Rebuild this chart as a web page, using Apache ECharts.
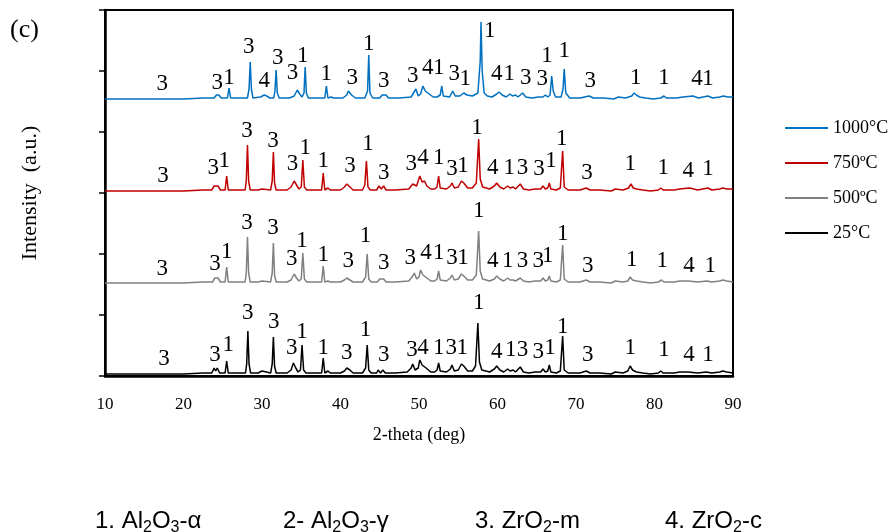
<!DOCTYPE html>
<html>
<head>
<meta charset="utf-8">
<script src="https://cdn.jsdelivr.net/npm/echarts@6/dist/echarts.min.js"></script>
<style>
html,body{margin:0;padding:0;background:#fff;}
#chart{width:892px;height:532px;}
</style>
</head>
<body>
<div id="chart"></div>
<script>
// ---- series names and colours ----
const seriesNames = ['1000°C', '750ºC', '500ºC', '25°C'];
const seriesColors = ['#0070C0', '#C00000', '#808080', '#000000'];
// vertical stacking offsets (a.u.)
const offsets = [275, 183, 91, 0];

// ---- x axis ticks ----
const xTicks = [10, 20, 30, 40, 50, 60, 70, 80, 90];

// ---- diffraction patterns [2theta, intensity] ----
const pattern25 = [[10,2],[14,2],[17.1,2],[17.3,4],[17.5,2],[20,2],[22.5,3],[23.6,3],[23.9,8],[24.1,5],[24.3,8],[24.6,3],[25.3,3],[25.5,15],[25.7,3],[27.0,3],[27.9,3],[28.05,12],[28.2,45],[28.35,12],[28.55,3],[29.5,3],[30.0,5],[30.2,3],[31.1,3],[31.3,12],[31.45,39],[31.6,10],[31.8,3],[33.2,3],[33.7,6],[34.0,13],[34.3,8],[34.6,4],[34.9,6],[35.1,31],[35.3,6],[35.6,3],[36.5,3],[37.6,3],[37.8,18],[38.0,3],[38.4,5],[38.7,3],[40.0,3],[40.5,5],[40.8,8],[41.2,6],[41.6,3],[42.8,3],[43.2,8],[43.4,31],[43.6,6],[43.9,3],[44.6,3],[44.8,6],[45.1,3],[45.4,6],[45.7,3],[47,3],[48.5,4],[49.0,8],[49.2,12],[49.5,6],[49.9,8],[50.1,16],[50.4,11],[50.6,12],[50.9,8],[51.1,8],[51.5,4],[52.0,4],[52.3,6],[52.5,13],[52.7,5],[53.5,4],[54.0,7],[54.2,11],[54.5,5],[55.0,6],[55.4,12],[55.7,10],[56.2,5],[56.8,5],[57.2,10],[57.5,53],[57.7,14],[58.0,6],[59.0,4],[59.6,7],[59.9,10],[60.3,6],[60.8,4],[61.3,7],[61.6,5],[62.0,6],[62.3,4],[62.9,9],[63.3,4],[64.0,3],[64.8,4],[65.5,4],[65.8,7],[66.1,4],[66.4,5],[66.6,11],[66.8,4],[67.5,3],[68.0,5],[68.3,40],[68.5,6],[69.0,3],[70.5,3],[71.3,5],[71.8,3],[73,3],[74.5,2],[75,4],[76.0,3],[76.6,5],[76.9,10],[77.2,6],[77.7,4],[78.5,3],[79.5,2],[80.5,3],[80.8,5],[81.1,3],[82.5,3],[83.2,4],[84.3,4],[85.5,3],[86.6,4],[87.3,3],[88.3,4],[88.7,5],[89.2,4],[90,3]];

const pattern500 = [[10,2],[14,2],[17.2,2],[17.4,4],[17.6,2],[20,2],[22.5,3],[23.7,3],[24.0,7],[24.2,5],[24.4,7],[24.7,3],[25.3,3],[25.5,18],[25.7,3],[27.0,3],[27.85,3],[28.0,12],[28.15,48],[28.3,12],[28.5,3],[29.5,3],[30.0,4],[30.2,3],[31.1,3],[31.3,12],[31.45,42],[31.6,10],[31.8,3],[33.2,3],[33.7,5],[34.1,11],[34.4,7],[34.7,4],[35.0,6],[35.2,32],[35.4,6],[35.7,3],[36.5,3],[37.6,3],[37.8,19],[38.0,3],[38.4,4],[38.7,3],[40.0,3],[40.5,5],[40.8,7],[41.2,5],[41.6,3],[42.8,3],[43.2,8],[43.4,31],[43.6,6],[43.9,3],[44.7,3],[45.0,6],[45.2,4],[45.5,6],[45.8,3],[47,3],[48.7,4],[49.2,9],[49.4,12],[49.7,6],[50.0,8],[50.2,15],[50.5,10],[50.7,11],[51.0,7],[51.5,4],[52.0,4],[52.3,6],[52.5,14],[52.7,5],[53.5,4],[54.0,7],[54.2,10],[54.5,5],[55.0,6],[55.4,11],[55.7,9],[56.2,5],[56.8,5],[57.3,10],[57.6,54],[57.8,14],[58.1,6],[59.0,4],[59.6,6],[59.9,9],[60.3,6],[60.8,4],[61.3,7],[61.6,5],[62.0,5],[62.3,4],[62.9,7],[63.3,4],[64.0,3],[64.8,4],[65.5,4],[65.8,7],[66.1,4],[66.4,5],[66.6,9],[66.8,4],[67.5,3],[68.0,5],[68.3,40],[68.5,6],[69.0,3],[70.5,3],[71.3,5],[71.8,3],[73,3],[74.5,2],[75,4],[76.0,3],[76.6,4],[76.9,8],[77.2,5],[77.7,4],[78.5,3],[79.5,2],[80.5,3],[80.9,5],[81.2,3],[82.5,3],[83.2,4],[84.3,4],[85.5,3],[86.7,4],[87.3,3],[88.3,4],[88.7,5],[89.2,4],[90,3]];

const pattern750 = [[10,2],[14,2],[17.2,2],[17.4,4],[17.6,2],[20,2],[22.5,3],[23.6,3],[23.9,7],[24.1,5],[24.4,7],[24.7,3],[25.3,3],[25.5,17],[25.7,3],[27.0,3],[27.85,3],[28.0,12],[28.15,48],[28.3,12],[28.5,3],[29.5,3],[30.0,4],[30.2,3],[31.1,3],[31.3,12],[31.45,41],[31.6,10],[31.8,3],[33.2,3],[33.7,6],[34.1,12],[34.4,8],[34.7,4],[35.0,6],[35.2,33],[35.4,6],[35.7,3],[36.5,3],[37.6,3],[37.8,20],[38.0,3],[38.4,5],[38.7,3],[40.0,3],[40.5,6],[40.8,9],[41.2,6],[41.6,3],[42.8,3],[43.1,8],[43.3,32],[43.5,6],[43.8,3],[44.6,3],[44.9,7],[45.2,4],[45.5,7],[45.8,3],[47,3],[48.7,4],[49.2,9],[49.4,11],[49.7,7],[49.9,9],[50.1,17],[50.4,11],[50.7,12],[51.0,7],[51.5,4],[52.0,4],[52.3,6],[52.5,17],[52.7,5],[53.5,4],[54.0,7],[54.2,10],[54.5,5],[55.0,6],[55.4,12],[55.7,10],[56.2,5],[56.8,5],[57.3,10],[57.6,54],[57.8,14],[58.1,6],[59.0,4],[59.6,7],[59.9,10],[60.3,6],[60.8,4],[61.3,7],[61.6,5],[62.0,6],[62.3,4],[62.9,9],[63.3,4],[64.0,3],[64.8,4],[65.5,4],[65.8,7],[66.1,4],[66.4,5],[66.6,10],[66.8,4],[67.5,3],[68.0,5],[68.3,42],[68.5,6],[69.0,3],[70.5,3],[71.3,5],[71.8,3],[73,3],[74.5,2],[75,4],[76.0,3],[76.7,5],[77.0,9],[77.3,5],[77.7,4],[78.5,3],[79.5,2],[80.5,3],[80.8,5],[81.1,3],[82.5,3],[83.2,4],[84.5,5],[85.5,3],[86.8,5],[87.3,3],[88.3,4],[88.7,5],[89.2,4],[90,4]];

const pattern1000 = [[10,2],[14,2],[17.4,2],[17.6,4],[17.8,2],[20,2],[22.5,3],[23.9,3],[24.2,6],[24.35,4],[24.5,6],[24.8,3],[25.6,3],[25.8,13],[26.0,3],[27.0,3],[28.15,3],[28.35,12],[28.5,39],[28.65,12],[28.85,3],[29.8,4],[30.3,6],[30.6,5],[31.0,3],[31.5,3],[31.65,10],[31.8,31],[31.95,8],[32.2,3],[33.5,3],[34.1,5],[34.5,11],[34.8,7],[35.1,4],[35.35,8],[35.5,34],[35.65,8],[35.9,3],[36.8,3],[38.0,3],[38.2,15],[38.4,3],[38.8,4],[39.1,3],[40.3,3],[40.8,6],[41.0,10],[41.4,6],[41.9,3],[43.1,3],[43.45,10],[43.6,46],[43.75,8],[44.1,3],[45.0,3],[45.3,6],[45.55,4],[45.8,6],[46.1,3],[47.5,3],[49.0,4],[49.6,12],[49.9,5],[50.2,7],[50.5,15],[50.8,10],[51.0,11],[51.3,7],[51.8,4],[52.3,4],[52.7,6],[52.9,15],[53.1,5],[53.9,4],[54.3,10],[54.6,5],[55.2,5],[55.7,8],[56.1,6],[56.8,5],[57.5,8],[57.8,40],[57.9,79],[58.05,30],[58.3,8],[58.7,5],[59.3,4],[59.9,7],[60.2,9],[60.6,6],[61.1,4],[61.6,7],[61.9,5],[62.3,6],[62.6,4],[63.2,8],[63.6,4],[64.4,3],[65.2,4],[65.8,4],[66.1,6],[66.4,4],[66.7,6],[66.9,25],[67.1,10],[67.4,4],[68.1,4],[68.35,12],[68.5,32],[68.7,8],[69.2,3],[70.5,3],[71.7,5],[72.2,3],[73.5,3],[74.8,2],[75.4,4],[76.3,3],[77.1,5],[77.4,8],[77.7,6],[78.1,4],[78.9,3],[79.8,2],[80.8,3],[81.2,5],[81.5,3],[82.8,3],[83.6,4],[84.9,5],[85.6,3],[86.8,5],[87.4,3],[88.3,4],[88.8,5],[89.3,4],[90,4]];

// ---- phase labels [2theta, intensity above own baseline, label] ----
const labels25 = [[17.5,17,'3'],[24.0,21,'3'],[25.7,31,'1'],[28.2,63,'3'],[31.5,54,'3'],[33.8,28,'3'],[35.1,44,'1'],[37.8,28,'1'],[40.8,23,'3'],[43.2,46,'1'],[45.5,21,'3'],[49.1,26,'3'],[50.5,28,'4'],[52.5,28,'1'],[54.1,28,'3'],[55.5,28,'1'],[57.6,73,'1'],[59.9,24,'4'],[61.7,26,'1'],[63.2,26,'3'],[65.2,24,'3'],[66.7,28,'1'],[68.3,49,'1'],[71.5,21,'3'],[76.9,28,'1'],[81.2,26,'1'],[84.4,21,'4'],[86.8,21,'1']];
const labels500 = [[17.3,16,'3'],[24.0,21,'3'],[25.5,33,'1'],[28.1,62,'3'],[31.4,57,'3'],[33.8,26,'3'],[35.1,44,'1'],[37.8,30,'1'],[41.0,24,'3'],[43.2,49,'1'],[45.5,22,'3'],[48.9,27,'3'],[50.9,32,'4'],[52.5,32,'1'],[54.2,27,'3'],[55.6,27,'1'],[57.6,74,'1'],[59.4,24,'4'],[61.3,24,'1'],[63.2,24,'3'],[65.2,24,'3'],[66.4,29,'1'],[68.3,51,'1'],[71.5,19,'3'],[77.1,25,'1'],[81.0,24,'1'],[84.4,19,'4'],[87.1,19,'1']];
const labels750 = [[17.4,17,'3'],[23.8,25,'3'],[25.2,32,'1'],[28.1,62,'3'],[31.4,52,'3'],[33.9,29,'3'],[35.5,45,'1'],[37.8,32,'1'],[41.2,27,'3'],[43.5,49,'1'],[45.5,20,'3'],[49.0,29,'3'],[50.5,35,'4'],[52.5,35,'1'],[54.2,24,'3'],[55.6,27,'1'],[57.4,65,'1'],[59.4,25,'4'],[61.5,25,'1'],[63.2,25,'3'],[65.3,24,'3'],[66.8,32,'1'],[68.2,54,'1'],[71.4,20,'3'],[76.9,29,'1'],[81.1,25,'1'],[84.3,22,'4'],[86.8,24,'1']];
const labels1000 = [[17.3,17,'3'],[24.3,18,'3'],[25.8,23,'1'],[28.3,54,'3'],[30.3,20,'4'],[32.0,43,'3'],[33.9,28,'3'],[35.2,45,'1'],[38.2,27,'1'],[41.5,23,'3'],[43.6,57,'1'],[45.5,20,'3'],[49.2,25,'3'],[51.1,33,'4'],[52.5,33,'1'],[54.5,27,'3'],[55.9,22,'1'],[59.0,70,'1'],[59.9,27,'4'],[61.5,27,'1'],[63.6,23,'3'],[65.7,22,'3'],[66.3,45,'1'],[68.5,50,'1'],[71.8,20,'3'],[77.6,23,'1'],[81.2,23,'1'],[85.4,22,'4'],[86.8,22,'1']];

const patterns = [pattern1000, pattern750, pattern500, pattern25];
const labelSets = [labels1000, labels750, labels500, labels25];

// ---- build ----
const chart = echarts.init(document.getElementById('chart'), null, {renderer: 'canvas'});
const serif = '"Liberation Serif", "Times New Roman", serif';

const series = [];
patterns.forEach((p, i) => {
  series.push({
    name: seriesNames[i],
    type: 'line',
    data: p.map(d => [d[0], d[1] + offsets[i]]),
    symbol: 'none',
    showSymbol: false,
    smooth: false,
    lineStyle: {width: 1.5, color: seriesColors[i]},
    itemStyle: {color: seriesColors[i]},
    z: 3 + i,
    animation: false
  });
});
labelSets.forEach((ls, i) => {
  const dataArr = ls.map(l => [l[0], l[1] + offsets[i]]);
  series.push({
    type: 'custom',
    coordinateSystem: 'cartesian2d',
    data: dataArr,
    silent: true,
    z: 10,
    renderItem: function (params, api) {
      const pt = api.coord([api.value(0), api.value(1)]);
      return {
        type: 'text',
        x: pt[0],
        y: pt[1],
        style: {
          text: ls[params.dataIndex][2],
          fill: '#000',
          font: '23px ' + serif,
          align: 'center',
          verticalAlign: 'middle'
        }
      };
    }
  });
});

const subRich = {
  n: {fontSize: 24, fontFamily: '"Liberation Sans", Arial, sans-serif', color: '#000', lineHeight: 30, verticalAlign: 'bottom'},
  s: {fontSize: 16, fontFamily: '"Liberation Sans", Arial, sans-serif', color: '#000', lineHeight: 30, verticalAlign: 'bottom', padding: [0, 0, -3, 0]}
};
function footText(x, txt) {
  return {type: 'text', left: x, top: 509, silent: true,
    style: {text: txt, rich: subRich}};
}

const option = {
  backgroundColor: '#fff',
  animation: false,
  grid: {left: 105, right: 159, top: 10, bottom: 156, show: true, borderColor: '#000', borderWidth: 2, backgroundColor: 'transparent'},
  legend: {
    data: seriesNames,
    orient: 'vertical',
    left: 780,
    top: 114,
    icon: 'rect',
    itemWidth: 43,
    itemHeight: 2,
    itemGap: 17,
    textStyle: {fontFamily: serif, fontSize: 18, color: '#000', lineHeight: 18, padding: [0, 0, 0, 0]},
    selectedMode: false
  },
  xAxis: {
    type: 'value',
    min: xTicks[0],
    max: xTicks[xTicks.length - 1],
    interval: 10,
    name: '2-theta (deg)',
    nameLocation: 'middle',
    nameGap: 50,
    nameTextStyle: {fontFamily: serif, fontSize: 18, color: '#000'},
    axisLine: {show: true, lineStyle: {color: '#000', width: 2.5}},
    axisTick: {show: false},
    axisLabel: {fontFamily: serif, fontSize: 17, color: '#000', margin: 20},
    splitLine: {show: false}
  },
  yAxis: {
    type: 'value',
    min: 0,
    max: 366,
    interval: 61,
    name: 'Intensity  (a.u.)',
    nameLocation: 'middle',
    nameRotate: 90,
    nameGap: 64,
    nameTextStyle: {fontFamily: serif, fontSize: 22, color: '#000'},
    axisLine: {show: true, lineStyle: {color: '#000', width: 2.5}},
    axisTick: {show: true, inside: false, length: 6, lineStyle: {color: '#000', width: 1.5}},
    axisLabel: {show: false},
    splitLine: {show: false}
  },
  graphic: [
    {type: 'text', left: 10, top: 17, silent: true,
      style: {text: '(c)', font: '26px ' + serif, fill: '#000'}},
    footText(95, '{n|1. Al}{s|2}{n|O}{s|3}{n|-α}'),
    footText(283, '{n|2- Al}{s|2}{n|O}{s|3}{n|-γ}'),
    footText(475, '{n|3. ZrO}{s|2}{n|-m}'),
    footText(665, '{n|4. ZrO}{s|2}{n|-c}')
  ],
  series: series
};
chart.setOption(option);
</script>
</body>
</html>
